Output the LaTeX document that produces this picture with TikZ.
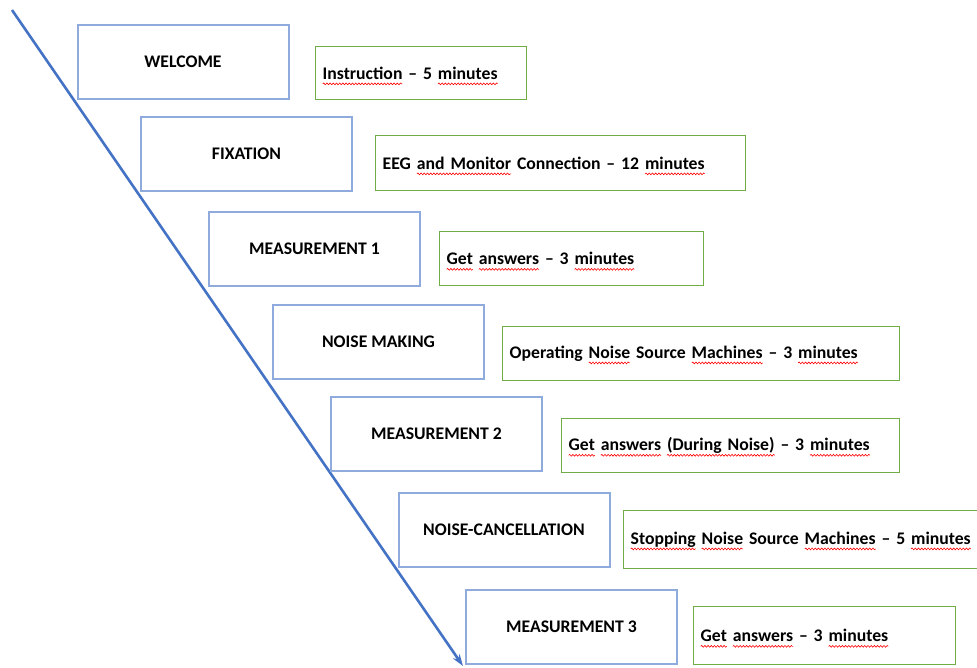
\documentclass[tikz,border=0pt]{standalone}
\usepackage{fontspec}
\setmainfont{Carlito}
\usetikzlibrary{arrows.meta,decorations.pathmorphing}

\definecolor{stepblue}{HTML}{8FAADC}
\definecolor{lineblue}{HTML}{4472C4}
\definecolor{descgreen}{HTML}{70AD47}

% red wavy underline under a word
\newsavebox{\spellbox}
\newlength{\spellwd}
\newcommand{\spell}[1]{%
    \sbox{\spellbox}{#1}\setlength{\spellwd}{\wd\spellbox}%
    \rlap{\tikz[overlay]\draw[red, line width=0.6pt, decorate,
        decoration={snake, amplitude=0.9pt, segment length=3.2pt}] (0pt,-4.5pt)--(\spellwd,-4.5pt);}%
    \usebox{\spellbox}}

\tikzset{
    stepbox/.style={draw=stepblue, line width=2pt, minimum width=211pt, minimum height=74pt,
        font=\bfseries\fontsize{17.7}{21}\selectfont},
    descbox/.style={draw=descgreen, line width=1.4pt, anchor=north west, inner xsep=7pt,
        align=left, font=\bfseries\fontsize{17.7}{21}\selectfont}
}

\begin{document}
\begin{tikzpicture}[x=1pt,y=-1pt]
\useasboundingbox (0,0) rectangle (977,667);

\coordinate (start) at (12,10);
\coordinate (finish) at (463,666);
\draw[lineblue, line width=2.6pt, -{Stealth[length=12pt,width=8pt]}] (start)--(finish);

\foreach \i/\x/\y/\txt in {1/183/62/WELCOME,2/246.5/153.5/FIXATION,3/314.5/249/MEASUREMENT 1,
    4/378.5/342/NOISE MAKING,5/436.5/433.5/MEASUREMENT 2,6/504/530/NOISE-CANCELLATION,
    7/571.5/626.5/MEASUREMENT 3}
{
    \node[stepbox] (step\i) at (\x,\y) {\txt};
}

\foreach \i/\x/\y/\w/\h/\txt in {
    1/315/46/211/53/{\spell{Instruction} – 5 \spell{minutes}},
    2/375/135/370/55/{EEG \spell{and Monitor} Connection – 12 \spell{minutes}},
    3/439/231/264/54/{\spell{Get} \spell{answers} – 3 \spell{minutes}},
    4/502/326/397/54/{Operating \spell{Noise} Source \spell{Machines} – 3 \spell{minutes}},
    5/561/418/338/54/{\spell{Get} \spell{answers} \spell{(During Noise)} – 3 \spell{minutes}},
    6/623/510/370/58/{\spell{Stopping} \spell{Noise} Source \spell{Machines} – 5 \spell{minutes}},
    7/693/606/262/58/{\spell{Get} \spell{answers} – 3 \spell{minutes}}}
{
    \node[descbox, text width=\w pt-14pt, minimum height=\h pt] (desc\i) at (\x,\y) {\txt};
}
\end{tikzpicture}
\end{document}
